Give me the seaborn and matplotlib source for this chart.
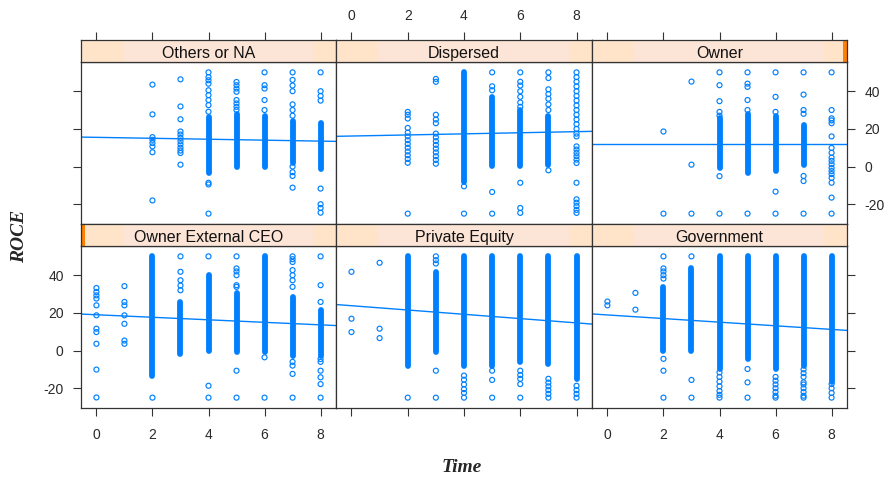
import numpy as np
import pandas as pd
import matplotlib
matplotlib.use("Agg")
import matplotlib.pyplot as plt
import seaborn as sns
from matplotlib.patches import Rectangle

# ---------------- data ----------------
times = [0, 1, 2, 3, 4, 5, 6, 7, 8]
x_ticks = [0, 2, 4, 6, 8]
y_ticks = [-20, 0, 20, 40]
panel_titles = ["Others or NA", "Dispersed", "Owner",
                "Owner External CEO", "Private Equity", "Government"]

# scattered (individually visible) ROCE values per Time 0..8
others_pts = [[], [],
              [43.5, 27.7, 15.6, 14.2, 12.5, 10.7, 7.6, -18],
              [46.3, 31.9, 25.1, 18.6, 17, 15.2, 13.5, 11.8, 10, 8.5, 7.2, 1],
              [50, 47.5, 45.8, 44, 40.5, 37.9, 35.3, 32.6, 29.1, -8.6, -9.5, -25],
              [44.9, 43.2, 41.4, 39.7, 35.3, 33.5, 31.7, 30],
              [50, 43.2, 41.4, 35.3, 30],
              [50, 46, 43, 40, 33, 30, 27, 0, -3, -5, -11.2],
              [50, 40, 37.5, 35, -11.7, -20, -22, -24.5]]
dispersed_pts = [[], [],
                 [29, 27.5, 25.5, 20.5, 18, 16, 14, 12, 10, 8, 6, 4, 2, -25],
                 [46.5, 45, 27.5, 25, 23, 17.5, 15.5, 13.5, 11.5, 9.5, 7.5, 5.5, 3.5, 1.5],
                 [-10.5, -25],
                 [50, 42.6, 40.5, -13.5, -25],
                 [50, 45, 43, 40, 37, 34, 31.7, -8.6, -22, -24.6],
                 [50, 47, 41, 38.5, 36, 33, 30, -2],
                 [50, 47.5, 45, 42.5, 40, 37.5, 35, 32.5, 30, 27.5, 25, 22.5, 20, 17.5, 16,
                  10.7, 9, 7.2, 5.5, 3.7, 1.9, -8.6, -17.4, -19.2, -21, -23, -24.6]]
owner_pts = [[], [],
             [18.6, -25],
             [45.1, 1, -25],
             [50, 43.2, 34.7, 29, 27, -5.1, -25],
             [50, 44, 42.3, 35.3, 30, -25],
             [50, 37, 29, -13.3, -25],
             [50, 38.2, 30, 28, -5, -7.7, -25],
             [50, 30, 25.6, 24.5, 23, 16, 9.9, 7.3, 4.7, 3, 1.2, -0.7, -2.4, -4, -6, -8.6, -16.5, -25]]
oec_pts = [[33.2, 31.1, 29.3, 27.6, 24, 18.7, 11.6, 9.8, 3.6, -10.1, -24.9],
           [34.2, 25.8, 24, 18.7, 14.2, 5.3, 3.6],
           [-25],
           [50, 41.8, 37.3, 34.5, 32],
           [50, -18.7, -25],
           [50, 43.6, 42, 40, 34.7, 33.8, -10.7, -25],
           [-3.6, -25],
           [50, 48.5, 47, 42.7, 40, 37.3, 33.8, -6, -8, -12.4, -25],
           [50, 34.7, 25.8, -4.5, -6, -10.7, -14.2, -17.8, -25]]
pe_pts = [[41.8, 16.9, 9.8],
          [46.6, 11.6, 6.6],
          [-25],
          [50, 48, 46.2, -10.7, -25],
          [-13.3, -15.5, -18, -20.5, -22.5, -25],
          [-10.7, -15.6, -25],
          [-10.7, -13, -15, -17.8, -25],
          [-15, -17, -19, -21, -23, -25],
          [-18.7, -21, -23, -25]]
gov_pts = [[26, 24],
           [30.6, 21.7],
           [50, 43.6, 42, 40, 38.2, -4.4, -10.7, -25],
           [50, -15.6, -25],
           [-11.6, -14, -16.5, -19, -21.5, -23.5, -25],
           [-9.8, -16.9, -25],
           [-14, -16, -18, -20, -22, -24, -25],
           [-10, -12, -14, -16.9, -18, -20, -22, -24, -25],
           [-17.8, -20, -22.5, -25]]

# ranges where observations overlap into a solid column (low, high) per Time
others_band_lo = [None, None, None, None, -3.3, 0, 0, 2, -1.5]
others_band_hi = [None, None, None, None, 26.5, 28, 27, 24, 23]
dispersed_band_lo = [None, None, None, None, -8, 0.2, 0.2, 1, None]
dispersed_band_hi = [None, None, None, None, 50, 37, 30, 27, None]
owner_band_lo = [None, None, None, None, -0.7, -3.3, -2.4, 1, None]
owner_band_hi = [None, None, None, None, 26, 28, 27, 22, None]
oec_band_lo = [None, None, -13.3, -1.8, 0, -0.9, -1, -2.7, -2.7]
oec_band_hi = [None, None, 50, 25.8, 40, 30.3, 50, 28.4, 21.3]
pe_band_lo = [None, None, -8, -0.9, -8, -8, -6.2, -7, -15]
pe_band_hi = [None, None, 50, 41.8, 50, 50, 50, 50, 50]
gov_band_lo = [None, None, 0, 0, -9.8, -4.4, -9.8, -8, -16.9]
gov_band_hi = [None, None, 33.8, 43.6, 50, 50, 50, 50, 50]

# fitted line per panel: intercept at Time 0 and slope
fit_intercept = [15.5, 16.2, 12.0, 19.0, 23.8, 18.9]
fit_slope = [-0.25, 0.29, 0.0, -0.67, -1.14, -0.96]

all_pts = [others_pts, dispersed_pts, owner_pts, oec_pts, pe_pts, gov_pts]
all_lo = [others_band_lo, dispersed_band_lo, owner_band_lo, oec_band_lo, pe_band_lo, gov_band_lo]
all_hi = [others_band_hi, dispersed_band_hi, owner_band_hi, oec_band_hi, pe_band_hi, gov_band_hi]

# ---------------- style ----------------
sns.set_theme(style="white")
plt.rcParams['font.family'] = ['Liberation Sans', 'DejaVu Sans']
plt.rcParams['axes.unicode_minus'] = False

BLUE = "#0080FF"
FRAME = "#333333"
TICKLAB = "#2a2a2a"
XLIM = (-0.55, 8.55)
YLIM = (-30.5, 55.5)

W, H = 887, 479
fig = plt.figure(figsize=(W / 100, H / 100), dpi=100)


def rect(x0, y0, x1, y1):
    return [x0 / W, 1 - y1 / H, (x1 - x0) / W, (y1 - y0) / H]


col_x = [(81, 336), (336, 592), (592, 847)]
row_y = [(62, 224), (246, 408)]
strip_y = [(40, 62), (224, 246)]

for i, title in enumerate(panel_titles):
    r, c = divmod(i, 3)
    x0, x1 = col_x[c]
    py0, py1 = row_y[r]
    sy0, sy1 = strip_y[r]
    ax = fig.add_axes(rect(x0, py0, x1, py1))
    sax = fig.add_axes(rect(x0, sy0, x1, sy1))

    # scattered points
    rows = [(t, v) for t, vals in zip(times, all_pts[i]) for v in vals]
    df = pd.DataFrame(rows, columns=["Time", "ROCE"])
    sns.scatterplot(data=df, x="Time", y="ROCE", ax=ax, marker="o", s=13,
                    facecolor="none", edgecolor=BLUE, linewidth=0.85,
                    legend=False, clip_on=True)
    # dense columns of overlapping observations
    bx = [t for t, lo in zip(times, all_lo[i]) if lo is not None]
    blo = [lo for lo in all_lo[i] if lo is not None]
    bhi = [hi for hi in all_hi[i] if hi is not None]
    if bx:
        lc = ax.vlines(bx, blo, bhi, colors=BLUE, linewidth=4.2)
        lc.set_capstyle("round")
    # fitted line
    lx = np.array(XLIM)
    ly = fit_intercept[i] + fit_slope[i] * lx
    sns.lineplot(x=lx, y=ly, ax=ax, color=BLUE, linewidth=1.0)

    ax.set_xlim(*XLIM)
    ax.set_ylim(*YLIM)
    ax.set_xticks(x_ticks)
    ax.set_yticks(y_ticks)
    ax.set_xlabel("")
    ax.set_ylabel("")
    ax.tick_params(axis="x", which="both", bottom=(r == 1), top=False,
                   labelbottom=(r == 1 and c != 1), labeltop=False,
                   direction="out", length=6, width=0.8, color=FRAME,
                   pad=8.5, labelsize=10, labelcolor=TICKLAB)
    ax.tick_params(axis="y", which="both", left=(c == 0), right=(c == 2),
                   labelleft=(r == 1 and c == 0), labelright=(r == 0 and c == 2),
                   direction="out", length=6, width=0.8, color=FRAME,
                   pad=6.5, labelsize=10, labelcolor=TICKLAB)
    for sp in ax.spines.values():
        sp.set_color(FRAME)
        sp.set_linewidth(0.9)

    # strip
    sax.set_facecolor("none")
    sax.add_patch(Rectangle((0, 0), 1, 1, transform=sax.transAxes,
                            facecolor="#FFE4CA", edgecolor="none", zorder=0))
    sax.add_patch(Rectangle((0.165, 0), 0.745, 1, transform=sax.transAxes,
                            facecolor="#FCE4D6", edgecolor="none", zorder=0))
    if title == "Owner":
        sax.add_patch(Rectangle((0.984, 0), 0.016, 1, transform=sax.transAxes,
                                facecolor="#FF8000", edgecolor="none", zorder=0))
    if title == "Owner External CEO":
        sax.add_patch(Rectangle((0, 0), 0.014, 1, transform=sax.transAxes,
                                facecolor="#FF8000", edgecolor="none", zorder=0))
    sax.text(0.5, 0.40, title, transform=sax.transAxes, ha="center",
             va="center", fontsize=11.5, color="#111111")
    sax.set_xlim(*XLIM)
    sax.set_ylim(0, 1)
    sax.set_yticks([])
    if r == 0:
        sax.set_xticks(x_ticks)
        sax.tick_params(axis="x", top=True, bottom=False, labeltop=(c == 1),
                        labelbottom=False, direction="out", length=6,
                        width=0.8, color=FRAME, pad=6, labelsize=10,
                        labelcolor=TICKLAB)
    else:
        sax.set_xticks([])
    for sp in sax.spines.values():
        sp.set_color(FRAME)
        sp.set_linewidth(0.9)

fig.text(20 / W, 1 - 236 / H, "ROCE", rotation=90, ha="center", va="center",
         family="Liberation Serif", weight="bold", style="italic", fontsize=14)
fig.text(462 / W, 1 - 467 / H, "Time", ha="center", va="center",
         family="Liberation Serif", weight="bold", style="italic", fontsize=14)

fig.savefig("out.png", dpi=100)
